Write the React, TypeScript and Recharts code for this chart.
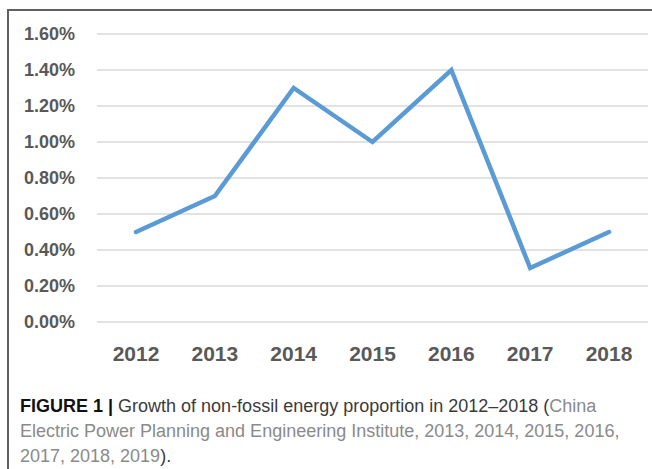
import { CartesianGrid, Line, LineChart, XAxis, YAxis } from "recharts";

const years = ["2012", "2013", "2014", "2015", "2016", "2017", "2018"];
const shares = [0.5, 0.7, 1.3, 1.0, 1.4, 0.3, 0.5];
const yTicks = [0, 0.2, 0.4, 0.6, 0.8, 1.0, 1.2, 1.4, 1.6];

const data = years.map((year, i) => ({ year, share: shares[i] }));

const axisFont = "'Liberation Sans', Arial, sans-serif";

export default function App() {
  return (
    <div style={{ position: "absolute", left: 0, top: 0, width: 652, height: 469, background: "#fff", overflow: "hidden" }}>
      {/* frame: left and top rule */}
      <div style={{ position: "absolute", left: 7, top: 9, width: 645, height: 460, borderLeft: "2px solid #606060", borderTop: "2px solid #606060" }} />
      <div style={{ position: "absolute", left: 0, top: 0 }}>
        <LineChart width={652} height={390} data={data} margin={{ top: 34, right: 4, left: 0, bottom: 8 }}>
          <CartesianGrid vertical={false} stroke="#d9d9d9" strokeWidth={1.5} />
          <XAxis
            dataKey="year"
            axisLine={false}
            tickLine={false}
            padding={{ left: 39, right: 39 }}
            height={60}
            tickMargin={18}
            tick={{ fill: "#595959", fontSize: 21, fontWeight: 700, fontFamily: axisFont }}
          />
          <YAxis
            width={97}
            domain={[0, 1.6]}
            ticks={yTicks}
            axisLine={false}
            tickLine={false}
            tickMargin={16}
            tickFormatter={(v: number) => `${v.toFixed(2)}%`}
            tick={{ fill: "#595959", fontSize: 18, fontWeight: 700, fontFamily: axisFont }}
          />
          <Line
            type="linear"
            dataKey="share"
            stroke="#5b9bd5"
            strokeWidth={4.5}
            strokeLinecap="round"
            strokeLinejoin="miter"
            dot={false}
            activeDot={false}
            isAnimationActive={false}
          />
        </LineChart>
      </div>
      <div
        style={{
          position: "absolute",
          left: 20,
          top: 394,
          fontFamily: axisFont,
          fontSize: 18,
          lineHeight: "25px",
          color: "#3a3a3a",
          whiteSpace: "nowrap",
        }}
      >
        <span style={{ fontWeight: 700, color: "#111" }}>FIGURE 1 |</span> Growth of non-fossil energy proportion in 2012–2018 (
        <span style={{ color: "#8a8a8a" }}>China</span>
        <br />
        <span style={{ color: "#8a8a8a" }}>Electric Power Planning and Engineering Institute, 2013, 2014, 2015, 2016,</span>
        <br />
        <span style={{ color: "#8a8a8a" }}>2017, 2018, 2019</span>).
      </div>
    </div>
  );
}
